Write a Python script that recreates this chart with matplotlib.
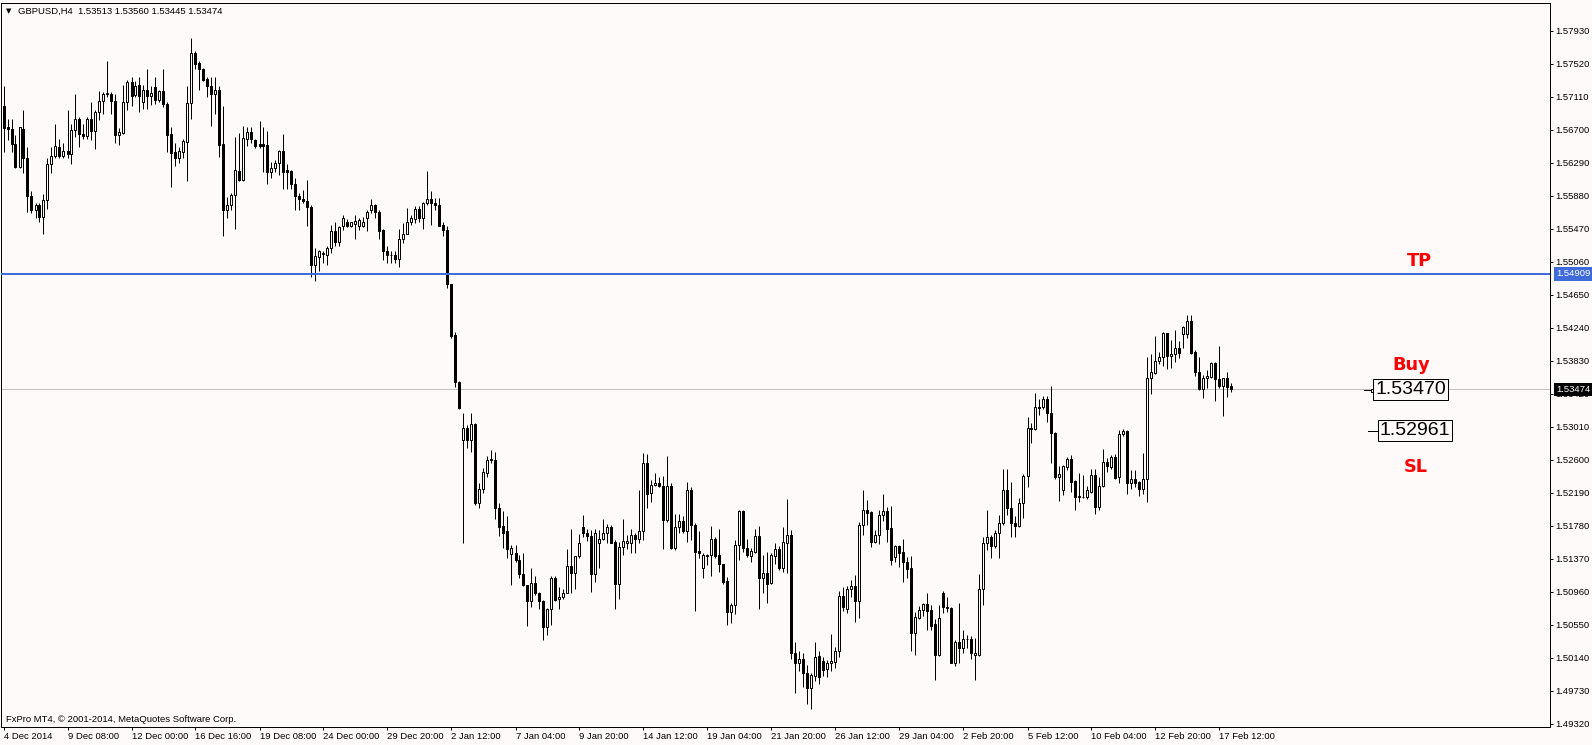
import matplotlib
matplotlib.use("Agg")
import matplotlib.pyplot as plt
import numpy as np
from matplotlib.transforms import blended_transform_factory

# ---------------- data ----------------
symbol = "GBPUSD,H4"

opens = [
    1.5699, 1.5674, 1.5671, 1.5652, 1.5624, 1.5671, 1.5635, 1.5588, 1.5570, 1.5577,
    1.5562, 1.5583, 1.5628, 1.5637, 1.5648, 1.5637, 1.5644, 1.5640, 1.5670, 1.5683,
    1.5665, 1.5662, 1.5683, 1.5668, 1.5692, 1.5706, 1.5714, 1.5715, 1.5706, 1.5663,
    1.5666, 1.5704, 1.5729, 1.5713, 1.5726, 1.5705, 1.5720, 1.5712, 1.5723, 1.5707,
    1.5718, 1.5702, 1.5665, 1.5642, 1.5635, 1.5643, 1.5655, 1.5703, 1.5766, 1.5753,
    1.5746, 1.5733, 1.5724, 1.5715, 1.5719, 1.5652, 1.5570, 1.5576, 1.5589, 1.5619,
    1.5608, 1.5659, 1.5667, 1.5657, 1.5652, 1.5652, 1.5651, 1.5618, 1.5622, 1.5629,
    1.5644, 1.5620, 1.5619, 1.5603, 1.5588, 1.5584, 1.5581, 1.5574, 1.5502, 1.5512,
    1.5516, 1.5514, 1.5523, 1.5544, 1.5531, 1.5550, 1.5555, 1.5550, 1.5553, 1.5551,
    1.5550, 1.5560, 1.5570, 1.5577, 1.5568, 1.5546, 1.5519, 1.5515, 1.5515, 1.5509,
    1.5534, 1.5541, 1.5556, 1.5559, 1.5572, 1.5560, 1.5579, 1.5584, 1.5579, 1.5577,
    1.5552, 1.5545, 1.5478, 1.5415, 1.5357, 1.5284, 1.5300, 1.5284, 1.5304, 1.5206,
    1.5224, 1.5243, 1.5260, 1.5260, 1.5200, 1.5178, 1.5171, 1.5143, 1.5144, 1.5136,
    1.5118, 1.5104, 1.5085, 1.5107, 1.5094, 1.5085, 1.5052, 1.5074, 1.5113, 1.5087,
    1.5089, 1.5095, 1.5128, 1.5119, 1.5140, 1.5176, 1.5169, 1.5165, 1.5118, 1.5156,
    1.5162, 1.5169, 1.5176, 1.5158, 1.5106, 1.5152, 1.5156, 1.5156, 1.5166, 1.5161,
    1.5171, 1.5256, 1.5219, 1.5229, 1.5231, 1.5227, 1.5185, 1.5227, 1.5150, 1.5177,
    1.5184, 1.5171, 1.5223, 1.5179, 1.5147, 1.5126, 1.5142, 1.5142, 1.5162, 1.5142,
    1.5130, 1.5109, 1.5071, 1.5080, 1.5154, 1.5196, 1.5150, 1.5140, 1.5146, 1.5165,
    1.5113, 1.5119, 1.5107, 1.5140, 1.5149, 1.5125, 1.5157, 1.5166, 1.5020, 1.5007,
    1.5013, 1.4995, 1.4977, 1.4991, 1.5016, 1.5010, 1.5000, 1.5007, 1.5009, 1.5023,
    1.5091, 1.5075, 1.5099, 1.5103, 1.5084, 1.5179, 1.5198, 1.5195, 1.5158, 1.5166,
    1.5191, 1.5196, 1.5175, 1.5139, 1.5153, 1.5146, 1.5133, 1.5125, 1.5045, 1.5064,
    1.5073, 1.5081, 1.5073, 1.5056, 1.5018, 1.5095, 1.5076, 1.5076, 1.5008, 1.5034,
    1.5026, 1.5037, 1.5037, 1.5018, 1.5017, 1.5100, 1.5157, 1.5164, 1.5153, 1.5169,
    1.5181, 1.5223, 1.5200, 1.5181, 1.5178, 1.5206, 1.5240, 1.5299, 1.5298, 1.5325,
    1.5325, 1.5335, 1.5318, 1.5293, 1.5238, 1.5223, 1.5251, 1.5261, 1.5234, 1.5215,
    1.5214, 1.5214, 1.5220, 1.5241, 1.5201, 1.5227, 1.5257, 1.5251, 1.5263, 1.5238,
    1.5292, 1.5296, 1.5231, 1.5236, 1.5233, 1.5224, 1.5236, 1.5362, 1.5368, 1.5383,
    1.5388, 1.5417, 1.5389, 1.5391, 1.5399, 1.5416, 1.5416, 1.5432, 1.5394, 1.5369,
    1.5348, 1.5362, 1.5363, 1.5380, 1.5360, 1.5352, 1.5361, 1.53513,
]

highs = [
    1.5724, 1.5683, 1.5683, 1.5664, 1.5674, 1.5694, 1.5649, 1.5594, 1.5579, 1.5579,
    1.5590, 1.5635, 1.5648, 1.5677, 1.5659, 1.5653, 1.5694, 1.5677, 1.5715, 1.5686,
    1.5677, 1.5686, 1.5704, 1.5695, 1.5718, 1.5717, 1.5755, 1.5717, 1.5715, 1.5672,
    1.5726, 1.5732, 1.5735, 1.5730, 1.5736, 1.5726, 1.5746, 1.5724, 1.5735, 1.5719,
    1.5746, 1.5705, 1.5674, 1.5653, 1.5649, 1.5659, 1.5724, 1.5784, 1.5768, 1.5755,
    1.5747, 1.5736, 1.5736, 1.5735, 1.5724, 1.5699, 1.5587, 1.5591, 1.5661, 1.5666,
    1.5675, 1.5674, 1.5673, 1.5658, 1.5681, 1.5673, 1.5668, 1.5630, 1.5632, 1.5645,
    1.5665, 1.5627, 1.5620, 1.5610, 1.5591, 1.5595, 1.5608, 1.5576, 1.5523, 1.5521,
    1.5519, 1.5525, 1.5552, 1.5555, 1.5550, 1.5564, 1.5559, 1.5556, 1.5564, 1.5560,
    1.5562, 1.5570, 1.5584, 1.5578, 1.5570, 1.5547, 1.5525, 1.5519, 1.5519, 1.5547,
    1.5554, 1.5573, 1.5564, 1.5575, 1.5575, 1.5580, 1.5619, 1.5594, 1.5585, 1.5585,
    1.5556, 1.5550, 1.5479, 1.5419, 1.5358, 1.5318, 1.5303, 1.5318, 1.5306, 1.5231,
    1.5250, 1.5265, 1.5272, 1.5270, 1.5206, 1.5196, 1.5190, 1.5154, 1.5154, 1.5142,
    1.5144, 1.5105, 1.5125, 1.5115, 1.5096, 1.5086, 1.5076, 1.5116, 1.5115, 1.5102,
    1.5099, 1.5149, 1.5174, 1.5141, 1.5168, 1.5192, 1.5174, 1.5173, 1.5174, 1.5173,
    1.5186, 1.5180, 1.5179, 1.5160, 1.5158, 1.5187, 1.5166, 1.5174, 1.5169, 1.5222,
    1.5268, 1.5267, 1.5235, 1.5244, 1.5239, 1.5240, 1.5265, 1.5231, 1.5193, 1.5193,
    1.5190, 1.5233, 1.5226, 1.5181, 1.5171, 1.5144, 1.5143, 1.5178, 1.5164, 1.5174,
    1.5131, 1.5114, 1.5082, 1.5160, 1.5198, 1.5198, 1.5161, 1.5150, 1.5174, 1.5178,
    1.5142, 1.5146, 1.5144, 1.5157, 1.5153, 1.5177, 1.5211, 1.5173, 1.5034, 1.5022,
    1.5020, 1.5005, 1.4995, 1.5034, 1.5022, 1.5015, 1.5011, 1.5044, 1.5028, 1.5097,
    1.5102, 1.5103, 1.5111, 1.5117, 1.5183, 1.5222, 1.5210, 1.5196, 1.5173, 1.5198,
    1.5218, 1.5201, 1.5202, 1.5154, 1.5154, 1.5161, 1.5139, 1.5140, 1.5071, 1.5078,
    1.5082, 1.5095, 1.5080, 1.5062, 1.5080, 1.5097, 1.5090, 1.5077, 1.5036, 1.5082,
    1.5049, 1.5042, 1.5041, 1.5038, 1.5118, 1.5164, 1.5198, 1.5167, 1.5173, 1.5191,
    1.5249, 1.5249, 1.5233, 1.5190, 1.5212, 1.5242, 1.5313, 1.5306, 1.5343, 1.5336,
    1.5339, 1.5339, 1.5352, 1.5294, 1.5252, 1.5253, 1.5264, 1.5266, 1.5235, 1.5243,
    1.5241, 1.5227, 1.5248, 1.5249, 1.5239, 1.5274, 1.5262, 1.5266, 1.5267, 1.5297,
    1.5298, 1.5297, 1.5247, 1.5247, 1.5234, 1.5269, 1.5388, 1.5392, 1.5414, 1.5394,
    1.5419, 1.5418, 1.5409, 1.5421, 1.5407, 1.5426, 1.5440, 1.5440, 1.5396, 1.5388,
    1.5365, 1.5372, 1.5381, 1.5381, 1.5401, 1.5362, 1.5369, 1.53560,
]

lows = [
    1.5643, 1.5657, 1.5642, 1.5622, 1.5623, 1.5616, 1.5568, 1.5566, 1.5560, 1.5555,
    1.5540, 1.5572, 1.5616, 1.5635, 1.5635, 1.5635, 1.5635, 1.5628, 1.5661, 1.5649,
    1.5659, 1.5659, 1.5657, 1.5646, 1.5682, 1.5690, 1.5711, 1.5690, 1.5653, 1.5651,
    1.5665, 1.5695, 1.5699, 1.5711, 1.5692, 1.5696, 1.5696, 1.5701, 1.5702, 1.5705,
    1.5698, 1.5643, 1.5599, 1.5625, 1.5629, 1.5635, 1.5606, 1.5683, 1.5746, 1.5719,
    1.5730, 1.5711, 1.5675, 1.5690, 1.5636, 1.5538, 1.5560, 1.5570, 1.5547, 1.5606,
    1.5606, 1.5650, 1.5653, 1.5647, 1.5647, 1.5618, 1.5603, 1.5610, 1.5618, 1.5614,
    1.5597, 1.5597, 1.5597, 1.5570, 1.5570, 1.5579, 1.5550, 1.5487, 1.5482, 1.5494,
    1.5504, 1.5502, 1.5517, 1.5525, 1.5526, 1.5546, 1.5549, 1.5549, 1.5534, 1.5545,
    1.5549, 1.5544, 1.5567, 1.5561, 1.5534, 1.5508, 1.5505, 1.5505, 1.5504, 1.5499,
    1.5529, 1.5540, 1.5552, 1.5554, 1.5555, 1.5547, 1.5577, 1.5552, 1.5570, 1.5550,
    1.5538, 1.5474, 1.5411, 1.5351, 1.5323, 1.5157, 1.5275, 1.5270, 1.5204, 1.5200,
    1.5219, 1.5238, 1.5256, 1.5186, 1.5165, 1.5150, 1.5138, 1.5104, 1.5133, 1.5113,
    1.5103, 1.5053, 1.5077, 1.5092, 1.5075, 1.5036, 1.5042, 1.5055, 1.5085, 1.5075,
    1.5087, 1.5094, 1.5095, 1.5099, 1.5138, 1.5164, 1.5159, 1.5096, 1.5108, 1.5126,
    1.5160, 1.5156, 1.5156, 1.5075, 1.5087, 1.5142, 1.5149, 1.5144, 1.5144, 1.5156,
    1.5160, 1.5200, 1.5208, 1.5227, 1.5226, 1.5149, 1.5183, 1.5149, 1.5148, 1.5169,
    1.5169, 1.5158, 1.5160, 1.5072, 1.5138, 1.5113, 1.5129, 1.5116, 1.5138, 1.5121,
    1.5106, 1.5055, 1.5057, 1.5069, 1.5135, 1.5146, 1.5139, 1.5133, 1.5144, 1.5074,
    1.5095, 1.5082, 1.5106, 1.5131, 1.5123, 1.5121, 1.5119, 1.5013, 1.4970, 1.4998,
    1.4978, 1.4957, 1.4950, 1.4985, 1.4982, 1.4991, 1.4990, 1.4997, 1.5001, 1.5015,
    1.5072, 1.5070, 1.5090, 1.5058, 1.5064, 1.5166, 1.5179, 1.5152, 1.5156, 1.5155,
    1.5184, 1.5158, 1.5129, 1.5133, 1.5127, 1.5108, 1.5113, 1.5022, 1.5017, 1.5062,
    1.5066, 1.5049, 1.5049, 1.4987, 1.5016, 1.5070, 1.5071, 1.5007, 1.5004, 1.5008,
    1.5020, 1.5026, 1.5013, 1.4987, 1.5016, 1.5080, 1.5148, 1.5138, 1.5150, 1.5138,
    1.5179, 1.5191, 1.5164, 1.5164, 1.5177, 1.5188, 1.5226, 1.5281, 1.5297, 1.5316,
    1.5323, 1.5307, 1.5256, 1.5236, 1.5209, 1.5216, 1.5247, 1.5220, 1.5198, 1.5208,
    1.5212, 1.5211, 1.5219, 1.5193, 1.5198, 1.5226, 1.5245, 1.5249, 1.5236, 1.5231,
    1.5289, 1.5217, 1.5224, 1.5226, 1.5215, 1.5218, 1.5208, 1.5342, 1.5366, 1.5379,
    1.5376, 1.5373, 1.5374, 1.5382, 1.5386, 1.5399, 1.5411, 1.5391, 1.5364, 1.5347,
    1.5337, 1.5349, 1.5362, 1.5333, 1.5349, 1.5314, 1.5338, 1.53445,
]

closes = [
    1.5672, 1.5671, 1.5652, 1.5624, 1.5673, 1.5635, 1.5588, 1.5570, 1.5577, 1.5562,
    1.5583, 1.5628, 1.5637, 1.5650, 1.5637, 1.5644, 1.5640, 1.5670, 1.5683, 1.5665,
    1.5662, 1.5684, 1.5668, 1.5692, 1.5706, 1.5714, 1.5716, 1.5706, 1.5663, 1.5667,
    1.5704, 1.5729, 1.5712, 1.5724, 1.5712, 1.5720, 1.5712, 1.5716, 1.5707, 1.5718,
    1.5702, 1.5663, 1.5641, 1.5635, 1.5644, 1.5656, 1.5703, 1.5766, 1.5752, 1.5746,
    1.5732, 1.5724, 1.5714, 1.5719, 1.5651, 1.5570, 1.5576, 1.5589, 1.5620, 1.5608,
    1.5660, 1.5667, 1.5658, 1.5650, 1.5650, 1.5650, 1.5618, 1.5623, 1.5629, 1.5644,
    1.5618, 1.5618, 1.5603, 1.5588, 1.5584, 1.5581, 1.5574, 1.5502, 1.5513, 1.5519,
    1.5517, 1.5523, 1.5544, 1.5531, 1.5549, 1.5560, 1.5550, 1.5555, 1.5557, 1.5558,
    1.5556, 1.5568, 1.5577, 1.5568, 1.5544, 1.5519, 1.5514, 1.5514, 1.5509, 1.5534,
    1.5541, 1.5556, 1.5560, 1.5572, 1.5560, 1.5579, 1.5584, 1.5579, 1.5576, 1.5551,
    1.5545, 1.5478, 1.5414, 1.5357, 1.5324, 1.5300, 1.5284, 1.5304, 1.5206, 1.5224,
    1.5245, 1.5260, 1.5261, 1.5200, 1.5177, 1.5169, 1.5149, 1.5150, 1.5136, 1.5118,
    1.5104, 1.5085, 1.5107, 1.5094, 1.5085, 1.5052, 1.5074, 1.5113, 1.5086, 1.5090,
    1.5095, 1.5128, 1.5119, 1.5140, 1.5156, 1.5169, 1.5165, 1.5118, 1.5169, 1.5162,
    1.5169, 1.5176, 1.5157, 1.5106, 1.5152, 1.5159, 1.5159, 1.5166, 1.5161, 1.5171,
    1.5256, 1.5218, 1.5229, 1.5231, 1.5227, 1.5185, 1.5227, 1.5150, 1.5177, 1.5184,
    1.5171, 1.5223, 1.5179, 1.5146, 1.5144, 1.5142, 1.5141, 1.5162, 1.5140, 1.5130,
    1.5108, 1.5071, 1.5080, 1.5154, 1.5196, 1.5150, 1.5142, 1.5147, 1.5165, 1.5113,
    1.5119, 1.5106, 1.5142, 1.5149, 1.5125, 1.5158, 1.5166, 1.5020, 1.5007, 1.5013,
    1.4995, 1.4977, 1.4993, 1.5015, 1.4990, 1.4999, 1.5008, 1.5010, 1.5023, 1.5091,
    1.5077, 1.5099, 1.5103, 1.5084, 1.5179, 1.5197, 1.5194, 1.5158, 1.5166, 1.5191,
    1.5196, 1.5174, 1.5135, 1.5153, 1.5144, 1.5133, 1.5124, 1.5045, 1.5065, 1.5073,
    1.5081, 1.5072, 1.5054, 1.5018, 1.5063, 1.5077, 1.5077, 1.5008, 1.5034, 1.5026,
    1.5037, 1.5037, 1.5020, 1.5020, 1.5100, 1.5157, 1.5164, 1.5153, 1.5169, 1.5181,
    1.5223, 1.5200, 1.5181, 1.5178, 1.5206, 1.5240, 1.5299, 1.5298, 1.5325, 1.5324,
    1.5335, 1.5318, 1.5293, 1.5238, 1.5242, 1.5252, 1.5261, 1.5233, 1.5214, 1.5214,
    1.5214, 1.5222, 1.5241, 1.5201, 1.5227, 1.5257, 1.5252, 1.5263, 1.5237, 1.5292,
    1.5296, 1.5231, 1.5236, 1.5231, 1.5224, 1.5236, 1.5362, 1.5369, 1.5383, 1.5388,
    1.5418, 1.5389, 1.5391, 1.5399, 1.5393, 1.5425, 1.5432, 1.5393, 1.5369, 1.5348,
    1.5362, 1.5364, 1.5380, 1.5360, 1.5352, 1.5361, 1.5351, 1.53474,
]

date_labels = ["4 Dec 2014", "9 Dec 08:00", "12 Dec 00:00", "16 Dec 16:00",
               "19 Dec 08:00", "24 Dec 00:00", "29 Dec 20:00", "2 Jan 12:00",
               "7 Jan 04:00", "9 Jan 20:00", "14 Jan 12:00", "19 Jan 04:00",
               "21 Jan 20:00", "26 Jan 12:00", "29 Jan 04:00", "2 Feb 20:00",
               "5 Feb 12:00", "10 Feb 04:00", "12 Feb 20:00", "17 Feb 12:00"]
bars_per_label = 16

price_tick_labels = ["1.57930", "1.57520", "1.57110", "1.56700", "1.56290",
                     "1.55880", "1.55470", "1.55060", "1.54650", "1.54240",
                     "1.53830", "1.53420", "1.53010", "1.52600", "1.52190",
                     "1.51780", "1.51370", "1.50960", "1.50550", "1.50140",
                     "1.49730", "1.49320"]

tp_price = 1.54909
bid_price = 1.53474
buy_price = 1.53470
sl_price = 1.52961
copyright_text = "FxPro MT4, \u00a9 2001-2014, MetaQuotes Software Corp."

for arr in (highs, lows, closes):
    assert len(arr) == len(opens), (len(arr), len(opens))

# ---------------- styling ----------------
BG = "#FFFAFA"
TP_COLOR = "#3F6BDB"
FONT = "Liberation Sans"
SMALL = 6.8
PT = 0.72  # one pixel in points at 100 dpi

W, H = 1592, 745
fig = plt.figure(figsize=(W / 100, H / 100), dpi=100, facecolor=BG)
L_px, R_px, T_px, B_px = 1, 1550, 3, 727
ax = fig.add_axes([L_px / W, 1 - B_px / H, (R_px - L_px) / W, (B_px - T_px) / H])
ax.set_facecolor(BG)

bar_px = 4
x0 = -(3.5 - L_px) / bar_px
ax.set_xlim(x0, x0 + (R_px - L_px) / bar_px)
ax.set_ylim(1.49280, 1.58275)

o, h, l, c = (np.asarray(a, dtype=float) for a in (opens, highs, lows, closes))
x = np.arange(len(o))
bull = c >= o

ax.vlines(x, l, h, colors="black", linewidth=PT, zorder=2)
ax.bar(x[bull], (c - o)[bull], bottom=o[bull], width=0.5, facecolor=BG,
       edgecolor="black", linewidth=PT, zorder=3)
ax.bar(x[~bull], (o - c)[~bull], bottom=c[~bull], width=0.5, facecolor="black",
       edgecolor="black", linewidth=PT, zorder=3)

ax.axhline(bid_price, color="#C0C0C0", lw=PT, zorder=1)
ax.axhline(tp_price, color=TP_COLOR, lw=2 * PT, zorder=4)

for sp in ax.spines.values():
    sp.set_color("black")
    sp.set_linewidth(PT)

# right price axis
ax.yaxis.tick_right()
ax.set_yticks([float(s) for s in price_tick_labels])
ax.set_yticklabels(price_tick_labels, fontfamily=FONT, fontsize=SMALL)
ax.tick_params(axis="y", direction="out", length=3 * PT, width=PT, pad=2.0,
               colors="black")

# bottom time axis
xt = np.arange(len(date_labels)) * bars_per_label
ax.set_xticks(xt)
ax.set_xticklabels([])
ax.tick_params(axis="x", direction="out", length=3 * PT, width=PT)
tx = blended_transform_factory(ax.transData, ax.transAxes)
for xi, lab in zip(xt, date_labels):
    ax.annotate(lab, xy=(xi, 0), xycoords=tx, xytext=(0, -5),
                textcoords="offset pixels", ha="left", va="top",
                fontsize=SMALL, family=FONT, annotation_clip=False)

# highlighted price labels on the axis
ty = blended_transform_factory(ax.transAxes, ax.transData)
for price, fc in ((tp_price, TP_COLOR), (bid_price, "black")):
    ax.annotate(f"{price:.5f}", xy=(1, price), xycoords=ty, xytext=(6, 0),
                textcoords="offset pixels", ha="left", va="center",
                fontsize=SMALL, family=FONT, color="white",
                bbox=dict(boxstyle="square,pad=0.25", fc=fc, ec="none"),
                annotation_clip=False, zorder=6)

# header and copyright
ax.annotate("\u25BC", xy=(0, 1), xycoords="axes fraction", xytext=(5, -8),
            textcoords="offset pixels", ha="left", va="center", fontsize=5,
            family="DejaVu Sans")
ax.annotate(f"{symbol}  {o[-1]:.5f} {h[-1]:.5f} {l[-1]:.5f} {c[-1]:.5f}",
            xy=(0, 1), xycoords="axes fraction", xytext=(17, -8),
            textcoords="offset pixels", ha="left", va="center",
            fontsize=SMALL, family=FONT)
ax.annotate(copyright_text, xy=(0, 0), xycoords="axes fraction", xytext=(5, 5),
            textcoords="offset pixels", ha="left", va="baseline",
            fontsize=SMALL, family=FONT)

# trade objects
lab_kw = dict(color="#FF0000", fontsize=12.8, fontweight="bold",
              family="DejaVu Sans", ha="center", va="baseline", zorder=6)
ax.text(353.9, tp_price + 0.00098, "TP", **lab_kw)
ax.text(351.9, buy_price + 0.00245, "Buy", **lab_kw)
ax.text(353.0, sl_price - 0.00509, "SL", **lab_kw)

box_kw = dict(fontsize=14, family=FONT, ha="center", va="center", zorder=6,
              bbox=dict(boxstyle="square,pad=0.1", fc=BG, ec="black", lw=PT))
ax.text(351.75, buy_price, f"{buy_price:.5f}", **box_kw)
ax.text(352.9, sl_price, f"{sl_price:.5f}", **box_kw)
ax.plot([340.1, 342.1], [buy_price, buy_price], color="black", lw=PT, zorder=5)
ax.plot([342.25], [buy_price], marker="s", ms=3 * PT, mfc=BG, mec="black",
        mew=PT, zorder=5)
ax.plot([341.1, 343.6], [sl_price, sl_price], color="black", lw=PT, zorder=5)

fig.savefig("out.png", dpi=100, facecolor=BG)
